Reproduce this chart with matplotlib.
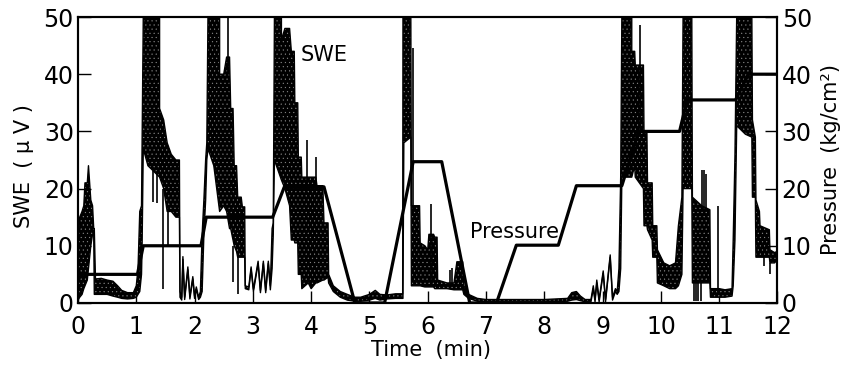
import matplotlib
matplotlib.use("Agg")
import matplotlib.pyplot as plt

plt.rcParams['font.family'] = ['DejaVu Sans']
plt.rcParams['hatch.linewidth'] = 0.3

# ---- Pressure (kg/cm^2) step/ramp line ----
pres_t = [0.0, 1.02, 1.12, 2.11, 2.20, 3.34, 3.54, 4.22, 4.75, 5.26, 5.75, 6.24, 6.72,
          7.18, 7.52, 8.24, 8.55, 9.33, 9.62, 10.32, 10.45, 11.28, 11.50, 12.0]
pres_v = [5.0, 5.0, 10.0, 10.0, 15.0, 15.0, 20.3, 20.3, 0.0, 0.0, 24.7, 24.7, 0.0,
          0.0, 10.1, 10.1, 20.5, 20.5, 30.0, 30.0, 35.5, 35.5, 40.0, 40.0]

# ---- SWE (uV) envelope: time, lower edge, upper edge ----
swe_t = [0.00, 0.03, 0.07, 0.10, 0.12, 0.16, 0.18, 0.20, 0.22, 0.25, 0.27, 0.28,
         0.30, 0.40, 0.50, 0.60, 0.68, 0.75, 0.85, 0.95, 1.00,
         1.03, 1.06, 1.09, 1.10, 1.12, 1.20, 1.30, 1.40, 1.40, 1.47, 1.53, 1.60, 1.68, 1.74,
         1.75, 1.78, 1.80, 1.83, 1.885, 1.92, 1.97, 2.00, 2.03, 2.07, 2.10,
         2.13, 2.16, 2.19, 2.21, 2.23, 2.33, 2.43, 2.43, 2.50, 2.55, 2.60, 2.62, 2.66, 2.68,
         2.72, 2.74, 2.80, 2.82, 2.86,
         2.87, 2.93, 2.97, 3.01, 3.09, 3.13, 3.18, 3.22, 3.265, 3.30,
         3.33, 3.35, 3.37, 3.49, 3.49, 3.55, 3.63, 3.66, 3.71, 3.72, 3.77, 3.78, 3.83, 3.84,
         3.95, 4.00, 4.08, 4.10, 4.20, 4.22, 4.29, 4.30, 4.38, 4.50, 4.62, 4.75,
         4.85, 5.00, 5.10, 5.18, 5.30, 5.45, 5.57, 5.575, 5.59, 5.71,
         5.72, 5.86, 5.87, 5.95, 6.00, 6.02, 6.10, 6.12, 6.16, 6.17, 6.33, 6.45, 6.50, 6.60,
         6.62, 6.70, 6.85,
         7.00, 7.50, 8.00, 8.40, 8.47, 8.55, 8.62, 8.70, 8.80, 8.84, 8.87, 8.90, 8.94,
         9.01, 9.05, 9.13, 9.17, 9.22, 9.25, 9.28, 9.31, 9.33,
         9.50, 9.50, 9.55, 9.56, 9.70, 9.71, 9.76, 9.77, 9.85, 9.86, 9.93, 9.94,
         10.05, 10.15, 10.25, 10.30, 10.36, 10.38, 10.53, 10.54, 10.70, 10.84,
         10.85, 11.00, 11.10, 11.22, 11.24, 11.27, 11.30, 11.45, 11.56, 11.57, 11.62,
         11.63, 11.69, 11.70, 11.86, 11.87, 11.95, 11.99]
swe_lo = [0.5, 1.0, 1.5, 2.5, 3.0, 4.0, 6.0, 8.0, 10.0, 12.0, 12.0, 1.5,
          1.5, 1.5, 1.5, 1.2, 1.0, 0.8, 0.7, 0.8, 1.0,
          1.5, 2.0, 5.0, 10.0, 27.0, 24.0, 23.0, 22.0, 22.0, 20.0, 16.0, 16.0, 15.0, 15.0,
          1.0, 0.5, 7.6, 0.6, 5.8, 0.7, 4.2, 0.8, 2.4, 0.6, 1.0,
          2.0, 12.0, 18.0, 25.0, 27.0, 24.0, 16.0, 16.0, 17.0, 16.0, 13.0, 13.0, 11.0, 10.0,
          9.0, 8.0, 8.0, 8.0, 8.0,
          2.5, 2.3, 5.9, 2.0, 6.9, 1.8, 6.9, 1.8, 6.9, 2.3,
          6.0, 12.0, 25.0, 21.5, 21.5, 20.0, 17.0, 11.0, 11.0, 10.5, 10.5, 5.0, 5.0, 2.5,
          3.5, 2.5, 3.5, 3.5, 4.0, 4.0, 4.5, 3.5, 2.0, 1.0, 0.5, 0.3,
          0.3, 0.5, 0.8, 0.5, 0.7, 0.8, 0.8, 0.8, 28.0, 29.0,
          3.0, 3.0, 3.0, 2.8, 2.8, 2.8, 2.8, 2.5, 2.5, 2.5, 2.5, 2.3, 2.3, 2.3,
          1.5, 0.8, 0.3,
          0.2, 0.2, 0.2, 0.3, 0.5, 0.6, 0.4, 0.2, 0.2, 2.5, 0.2, 3.5, 0.2,
          5.2, 0.2, 8.0, 0.5, 2.0, 1.5, 2.0, 6.0, 22.0,
          22.0, 22.0, 24.0, 22.0, 20.0, 13.5, 13.5, 12.8, 11.0, 8.0, 8.0, 3.5,
          3.0, 2.5, 2.5, 3.0, 5.0, 20.0, 20.0, 3.5, 3.5, 3.5,
          1.0, 1.0, 1.0, 1.2, 3.0, 11.0, 31.0, 29.5, 29.0, 18.5, 18.5,
          8.0, 8.0, 8.0, 8.0, 7.0, 7.0, 7.5]
swe_hi = [10.0, 15.0, 16.0, 17.0, 21.0, 21.0, 24.0, 21.0, 18.0, 17.0, 13.0, 13.0,
          4.2, 4.3, 4.0, 3.8, 3.0, 2.2, 1.8, 1.8, 3.0,
          6.0, 16.0, 17.0, 28.0, 50.0, 50.0, 50.0, 50.0, 34.0, 32.0, 28.0, 26.0, 25.0, 25.0,
          2.0, 1.0, 8.1, 1.0, 6.3, 1.1, 4.6, 1.2, 2.8, 1.0, 2.0,
          12.0, 18.0, 25.0, 28.0, 50.0, 50.0, 50.0, 40.0, 40.0, 43.0, 43.0, 34.0, 34.0, 24.0,
          24.0, 18.5, 18.5, 16.8, 16.8,
          3.0, 2.8, 6.3, 2.4, 7.3, 2.2, 7.3, 2.2, 7.3, 3.0,
          13.0, 14.0, 50.0, 50.0, 46.0, 48.0, 48.0, 44.0, 44.0, 35.0, 35.0, 25.5, 25.5, 22.0,
          22.0, 22.0, 22.0, 20.5, 20.5, 14.0, 14.0, 5.0, 3.0, 2.0, 1.5, 1.0,
          1.0, 1.5, 2.2, 1.5, 1.4, 1.6, 1.6, 50.0, 50.0, 50.0,
          17.0, 17.0, 10.5, 10.0, 9.3, 12.0, 12.0, 11.5, 11.5, 4.0, 3.5, 3.5, 7.2, 7.2,
          3.0, 1.5, 0.8,
          0.6, 0.6, 0.6, 0.8, 1.8, 2.0, 1.2, 0.6, 0.6, 3.0, 0.6, 4.0, 0.6,
          5.6, 0.6, 8.4, 1.0, 2.5, 2.0, 6.0, 22.0, 50.0,
          50.0, 44.0, 44.0, 41.6, 41.6, 29.7, 29.7, 21.0, 21.0, 13.5, 13.5, 9.3,
          7.0, 6.5, 7.0, 13.5, 18.5, 50.0, 50.0, 18.5, 17.0, 16.3,
          2.5, 2.5, 2.3, 2.5, 11.0, 25.5, 50.0, 50.0, 50.0, 32.0, 29.0,
          18.0, 16.0, 13.5, 12.8, 9.3, 8.8, 9.0]

# ---- isolated SWE spikes: time, bottom, top ----
spike_t = [1.28, 1.36, 1.45, 1.54, 2.57, 2.66, 2.75, 3.93, 4.09, 5.74, 6.06, 6.38, 6.41,
           9.64, 10.56, 10.60, 10.64, 10.68, 10.70, 10.74, 10.77, 10.98, 11.76, 11.87, 12.0]
spike_lo = [17.7, 17.5, 2.5, 10.0, 40.0, 3.7, 1.5, 20.0, 20.0, 16.0, 3.0, 3.0, 3.0,
            30.0, 0.3, 0.3, 0.3, 0.3, 16.0, 16.0, 16.0, 2.0, 6.5, 5.0, 0.0]
spike_hi = [23.0, 23.0, 20.0, 16.0, 50.0, 10.0, 8.0, 28.5, 25.5, 44.5, 17.3, 5.8, 6.1,
            48.6, 4.0, 4.0, 4.0, 4.0, 23.2, 23.2, 22.5, 17.0, 8.0, 7.0, 9.0]

x_ticks = list(range(0, 13))
y_ticks = [0, 10, 20, 30, 40, 50]

fig = plt.figure(figsize=(8.43, 3.65), dpi=100)
ax = fig.add_axes([0.0925, 0.170, 0.8298, 0.7834])

ax.fill_between(swe_t, swe_lo, swe_hi, facecolor='black', edgecolor='#8a8a8a',
                hatch='....', linewidth=0, zorder=2)
ax.plot(swe_t, swe_lo, color='black', lw=1.0, zorder=3)
ax.plot(swe_t, swe_hi, color='black', lw=1.0, zorder=3)
ax.vlines(spike_t, spike_lo, spike_hi, color='black', lw=1.2, zorder=3)

ax.set_xlim(0, 12)
ax.set_ylim(0, 50)
ax.set_xticks(x_ticks)
ax.set_yticks(y_ticks)
ax.tick_params(direction='in', length=9, width=1.0, labelsize=17, pad=3)
ax.tick_params(axis='x', pad=8.5)
for s in ax.spines.values():
    s.set_linewidth(1.5)

ax.set_ylabel('SWE  ( μ V )', fontsize=15)
ax.yaxis.set_label_coords(-0.063, 0.48)
ax.set_xlabel('Time  (min)', fontsize=15)
ax.xaxis.set_label_coords(0.504, -0.128)

ax2 = ax.twinx()
ax2.set_position(ax.get_position())
ax2.plot(pres_t, pres_v, color='black', lw=2.3, zorder=4)
ax2.set_ylim(0, 50)
ax2.set_yticks(y_ticks)
ax2.tick_params(direction='in', length=9, width=1.0, labelsize=17, pad=3)
ax2.set_ylabel('Pressure  (kg/cm²)', fontsize=15)
ax2.yaxis.set_label_coords(1.062, 0.5)
for s in ax2.spines.values():
    s.set_linewidth(1.5)

ax.text(4.23, 43.4, 'SWE', fontsize=15, ha='center', va='center')
ax.text(7.49, 12.4, 'Pressure', fontsize=15, ha='center', va='center',
        bbox=dict(facecolor='white', edgecolor='none', pad=1))

fig.savefig('out.png', dpi=100)
